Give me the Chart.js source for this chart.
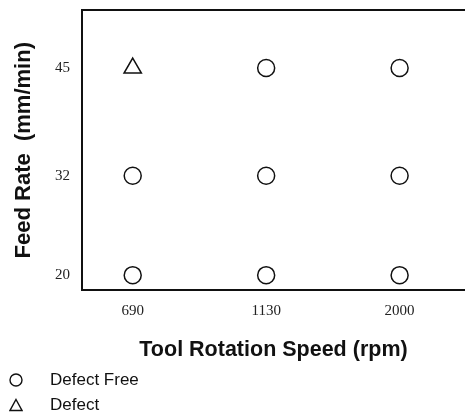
<!DOCTYPE html>
<html>
<head>
<meta charset="utf-8">
<script src="https://cdn.jsdelivr.net/npm/chart.js@4/dist/chart.umd.min.js"></script>
<style>
  body { margin: 0; background: #fff; }
  #wrap { position: relative; width: 465px; height: 414px; }
  #legend { position: absolute; left: 9px; top: 367px; font: 17px "Liberation Sans", Arial, sans-serif; color: #111; }
  #legend .item { display: flex; align-items: center; height: 25px; }
  #legend svg { margin-right: 27px; }
</style>
</head>
<body>
<div id="wrap">
  <canvas id="chart"></canvas>
  <div id="legend"></div>
</div>
<script>
// tool rotation speed (rpm) and feed rate (mm/min)
const speeds = ['690', '1130', '2000'];
const feeds = [20, 32, 45];

// trials as [speed, feed]
const defectFree = [
    ['690', 20], ['1130', 20], ['2000', 20],
    ['690', 32], ['1130', 32], ['2000', 32],
    ['1130', 45], ['2000', 45],
];
const defect = [['690', 45]];

const toPoints = list => list.map(([s, f]) => ({ x: speeds.indexOf(s), y: f }));

const ink = '#111';
const tickFont = { family: '"Liberation Serif", "Times New Roman", serif', size: 15 };
const sans = '"Liberation Sans", Arial, sans-serif';

const markers = {
    circle: '<svg width="14" height="14"><circle cx="7" cy="7" r="6" fill="none" stroke="#111" stroke-width="1.4"/></svg>',
    triangle: '<svg width="14" height="14"><polygon points="7,1.5 13,12.5 1,12.5" fill="none" stroke="#111" stroke-width="1.4"/></svg>',
};

const chart = new Chart(document.getElementById('chart'), {
    type: 'scatter',
    data: {
        datasets: [
            {
                label: 'Defect Free',
                data: toPoints(defectFree),
                pointStyle: 'circle',
                pointRadius: 8.5,
                pointBorderWidth: 1.5,
                borderColor: ink,
                backgroundColor: 'rgba(0,0,0,0)',
            },
            {
                label: 'Defect',
                data: toPoints(defect),
                pointStyle: 'triangle',
                pointRadius: 10,
                pointBorderWidth: 1.5,
                borderColor: ink,
                backgroundColor: 'rgba(0,0,0,0)',
            },
        ],
    },
    options: {
        responsive: true,
        maintainAspectRatio: false,
        animation: false,
        layout: { autoPadding: false, padding: { top: 10, left: 0, right: 0, bottom: 51 } },
        plugins: {
            legend: { display: false },
            tooltip: { enabled: false },
        },
        scales: {
            x: {
                type: 'linear',
                position: 'bottom',
                min: -0.38,
                max: 2.49,
                grid: { display: false, drawTicks: false },
                border: { color: ink, width: 2 },
                afterBuildTicks: s => { s.ticks = speeds.map((_, i) => ({ value: i })); },
                ticks: { font: tickFont, color: '#222', padding: 12, callback: v => speeds[v] },
                title: { display: true, text: 'Tool Rotation Speed (rpm)', font: { family: sans, size: 21.5, weight: 'bold' }, color: ink, padding: { top: 0, bottom: 0 } },
                afterFit: s => { s.height = 72.6; s.paddingLeft = 0; s.paddingRight = 0; },
            },
            x2: {
                type: 'linear',
                position: 'top',
                grid: { display: false, drawTicks: false },
                ticks: { display: false },
                border: { color: ink, width: 2 },
                afterFit: s => { s.height = 0; s.paddingLeft = 0; s.paddingRight = 0; },
            },
            y: {
                type: 'linear',
                min: 18.16,
                max: 52,
                grid: { display: false, drawTicks: false },
                border: { color: ink, width: 2 },
                afterBuildTicks: s => { s.ticks = feeds.map(v => ({ value: v })); },
                ticks: { font: tickFont, color: '#222', padding: 12 },
                title: { display: true, text: 'Feed Rate  (mm/min)', font: { family: sans, size: 22, weight: 'bold' }, color: ink, padding: { top: 11, bottom: 0 } },
                afterFit: s => { s.width = 82; s.paddingTop = 0; s.paddingBottom = 0; },
            },
        },
    },
});

// legend below the axis title, one entry per line
document.getElementById('legend').innerHTML = chart.data.datasets.map(ds =>
    `<div class="item">${markers[ds.pointStyle]}<span>${ds.label}</span></div>`
).join('');
</script>
</body>
</html>
